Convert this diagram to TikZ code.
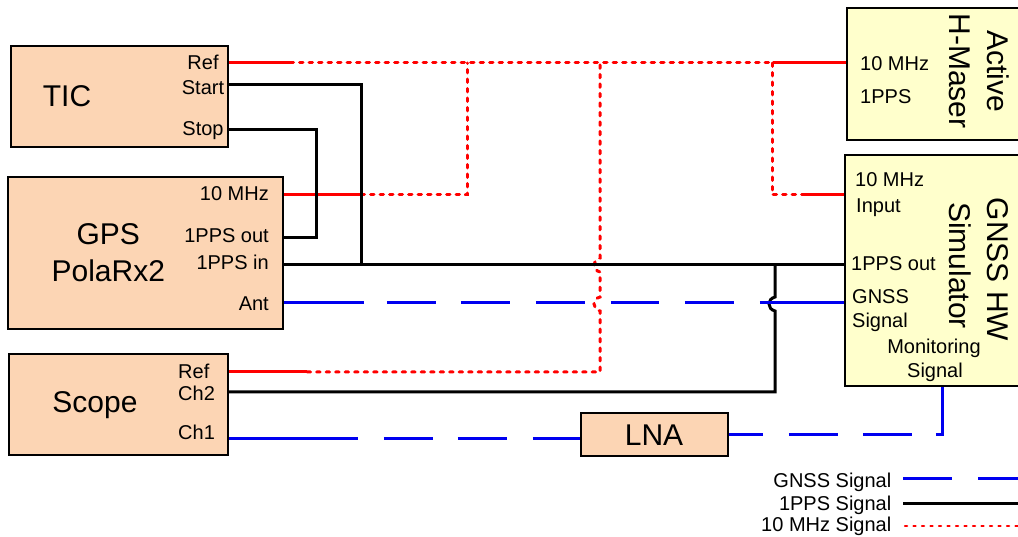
\documentclass[tikz,border=0pt]{standalone}
\usepackage{fontspec}
\setmainfont{Liberation Sans}
\definecolor{peachc}{RGB}{252,213,180}
\definecolor{yellowc}{RGB}{255,255,204}
\definecolor{sigred}{RGB}{255,0,0}
\definecolor{sigblue}{RGB}{0,0,240}
\begin{document}
\begin{tikzpicture}[x=1pt,y=-1pt,
  peachbox/.style={draw=black, line width=1.5pt, fill=peachc, inner sep=0pt},
  yellowbox/.style={draw=black, line width=1.5pt, fill=yellowc, inner sep=0pt},
  lbl/.style={font=\fontsize{20}{24}\selectfont, inner sep=0pt},
  ttl/.style={font=\fontsize{30}{36}\selectfont, inner sep=0pt},
  ppsline/.style={line width=3pt, black},
  tenline/.style={line width=3pt, sigred},
  tendot/.style={line width=3pt, sigred, dash pattern=on 3.5pt off 6pt, line cap=round},
  gnssline/.style={line width=3pt, sigblue}]
\path[use as bounding box] (0,0) rectangle (1018,537);
\clip (0,0) rectangle (1018,537);

% ---- boxes (nodes) ----
\node[peachbox, minimum width=217pt, minimum height=101pt] (tic) at (119.5,96.5) {};
\node[peachbox, minimum width=275pt, minimum height=152pt] (gps) at (145.5,253) {};
\node[peachbox, minimum width=219pt, minimum height=101pt] (scope) at (118.5,404.5) {};
\node[peachbox, minimum width=147pt, minimum height=43pt] (lna) at (654.5,434.5) {};
\node[yellowbox, minimum width=193pt, minimum height=132pt] (maser) at (943.5,74) {};
\node[yellowbox, minimum width=195pt, minimum height=231pt] (sim) at (942.5,270.5) {};

% ---- ports ----
\coordinate (ticRef) at (tic.east |- 0,63);
\coordinate (ticStart) at (tic.east |- 0,85);
\coordinate (ticStop) at (tic.east |- 0,130);
\coordinate (gpsTen) at (gps.east |- 0,195);
\coordinate (gpsOut) at (gps.east |- 0,238);
\coordinate (gpsIn) at (gps.east |- 0,265);
\coordinate (gpsAnt) at (gps.east |- 0,303);
\coordinate (scRef) at (scope.east |- 0,372);
\coordinate (scCh2) at (scope.east |- 0,392);
\coordinate (scCh1) at (scope.east |- 0,438);
\coordinate (lnaW) at (lna.west |- 0,438);
\coordinate (lnaE) at (lna.east |- 0,434);
\coordinate (maserTen) at (maser.west |- 0,63);
\coordinate (simTen) at (sim.west |- 0,195);
\coordinate (simPps) at (sim.west |- 0,265);
\coordinate (simGnss) at (sim.west |- 0,303);
\coordinate (simMon) at (942,386);

% ---- 10 MHz (red) ----
\draw[tenline] (ticRef) -- (290,63);
\draw[tendot] (290,63) -- (773,63);
\draw[tenline] (773,63) -- (maserTen);
\draw[tendot] (772,63) -- (772,195) -- (805,195);
\draw[tenline] (805,195) -- (simTen);
\draw[tenline] (gpsTen) -- (361,195);
\draw[tendot] (361,195) -- (467,195) -- (467,63);
\draw[tenline] (scRef) -- (307,372);
\draw[tendot] (307,372) -- (600,372) -- (600,311)
  .. controls (592,309) and (592,299) .. (600,297) -- (600,272)
  .. controls (592,270) and (592,260) .. (600,258) -- (600,63);

% ---- 1PPS (black) ----
\draw[ppsline] (ticStart) -- (361,85) -- (361,265);
\draw[ppsline] (ticStop) -- (316,130) -- (316,238) -- (gpsOut);
\draw[ppsline] (gpsIn) -- (simPps);
\draw[ppsline] (scCh2) -- (775,392) -- (775,311)
  .. controls (767,309) and (767,299) .. (775,297) -- (775,265);

% ---- GNSS (blue) ----
\draw[gnssline, dash pattern=on 80pt off 23pt on 49pt off 25pt on 49pt off 26pt on 49pt off 26pt on 48pt off 26pt on 49pt off 26pt on 200pt] (gpsAnt) -- (simGnss);
\draw[gnssline, dash pattern=on 129pt off 26pt on 49pt off 25pt on 49pt off 26pt on 100pt] (scCh1) -- (lnaW);
\draw[gnssline, dash pattern=on 34pt off 26pt on 49pt off 25pt on 49pt off 24pt on 100pt] (lnaE) -- (942,434) -- (simMon);

% redraw boxes on top
\node[peachbox, minimum width=217pt, minimum height=101pt] at (tic) {};
\node[peachbox, minimum width=275pt, minimum height=152pt] at (gps) {};
\node[peachbox, minimum width=219pt, minimum height=101pt] at (scope) {};
\node[peachbox, minimum width=147pt, minimum height=43pt] at (lna) {};
\node[yellowbox, minimum width=193pt, minimum height=132pt] at (maser) {};
\node[yellowbox, minimum width=195pt, minimum height=231pt] at (sim) {};

% ---- texts ----
\node[ttl, anchor=base] (ticT) at (67,106.5) {TIC};
\node[lbl, anchor=base] (ticRefL) at (203,69.3) {Ref};
\node[lbl, anchor=base] (ticStartL) at (203,95) {Start};
\node[lbl, anchor=base] (ticStopL) at (203,136) {Stop};

\node[ttl, anchor=base] (gpsT1) at (108.3,245) {GPS};
\node[ttl, anchor=base] (gpsT2) at (108.3,282) {PolaRx2};
\node[lbl, anchor=base east] (gpsTenL) at (269,200.7) {10 MHz};
\node[lbl, anchor=base east] (gpsOutL) at (269,243) {1PPS out};
\node[lbl, anchor=base east] (gpsInL) at (269,270) {1PPS in};
\node[lbl, anchor=base east] (gpsAntL) at (269,310.7) {Ant};

\node[ttl, anchor=base] (scT) at (95,413) {Scope};
\node[lbl, anchor=base west] (scRefL) at (178,378) {Ref};
\node[lbl, anchor=base west] (scCh2L) at (178,400) {Ch2};
\node[lbl, anchor=base west] (scCh1L) at (178,439) {Ch1};

\node[ttl, anchor=base] (lnaT) at (654,445) {LNA};

\node[ttl, rotate=-90] (maserT1) at (998,71) {Active};
\node[ttl, rotate=-90] (maserT2) at (960,71) {H-Maser};
\node[lbl, anchor=base west] (maserTenL) at (860,70.7) {10 MHz};
\node[lbl, anchor=base west] (maserPpsL) at (860,104) {1PPS};

\node[ttl, rotate=-90] (simT1) at (998,269.5) {GNSS HW};
\node[ttl, rotate=-90] (simT2) at (960,265.5) {Simulator};
\node[lbl, anchor=base west] (simTenL) at (855,187) {10 MHz};
\node[lbl, anchor=base west] (simInL) at (856,212.7) {Input};
\node[lbl, anchor=base west] (simPpsL) at (851,270.7) {1PPS out};
\node[lbl, anchor=base west] (simGnssL) at (852,304) {GNSS};
\node[lbl, anchor=base west] (simSigL) at (852,328) {Signal};
\node[lbl, anchor=base] (simMonL) at (934,354) {Monitoring};
\node[lbl, anchor=base] (simMonL2) at (935,377.7) {Signal};

% ---- legend ----
\node[lbl, anchor=base east] (lgG) at (891.5,487) {GNSS Signal};
\node[lbl, anchor=base east] (lgP) at (891.5,510) {1PPS Signal};
\node[lbl, anchor=base east] (lgT) at (891.5,531.7) {10 MHz Signal};
\coordinate (lgGa) at (903,478);
\coordinate (lgGb) at (1030,478);
\coordinate (lgPa) at (903,503);
\coordinate (lgPb) at (1030,503);
\coordinate (lgTa) at (905,526);
\coordinate (lgTb) at (1030,526);
\draw[gnssline, dash pattern=on 49pt off 26pt on 100pt] (lgGa) -- (lgGb);
\draw[ppsline] (lgPa) -- (lgPb);
\draw[line width=2.5pt, sigred, dash pattern=on 2pt off 6.5pt, line cap=round] (lgTa) -- (lgTb);
\end{tikzpicture}
\end{document}
